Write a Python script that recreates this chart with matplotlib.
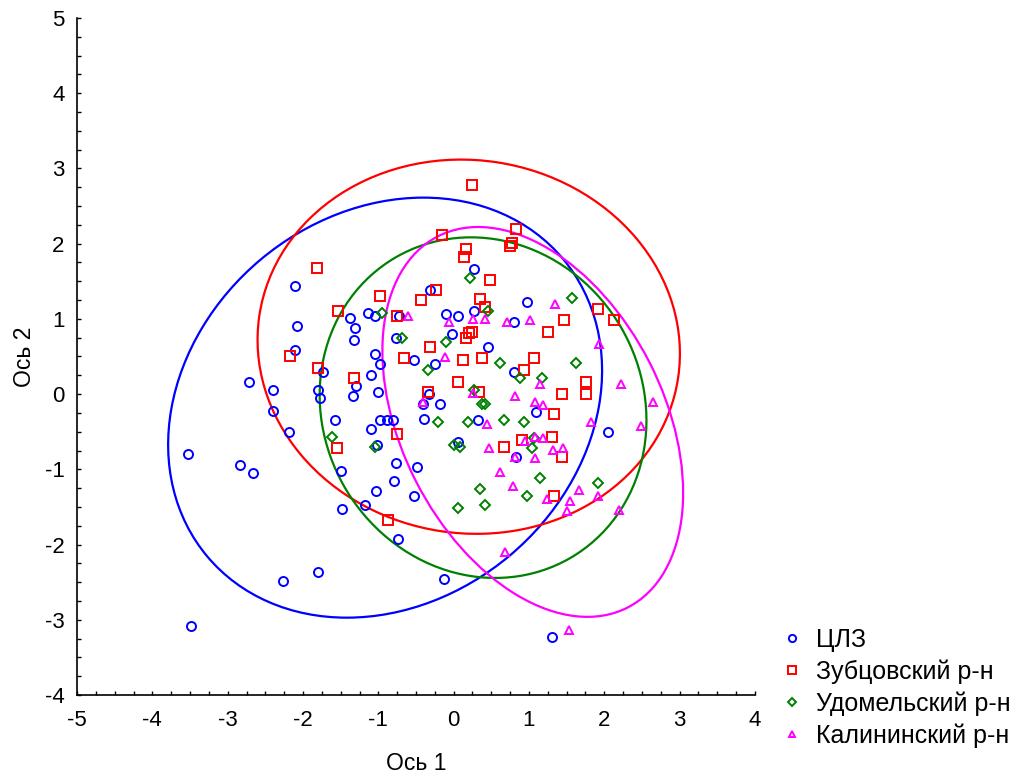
import matplotlib
matplotlib.use("Agg")
import matplotlib.pyplot as plt
from matplotlib.patches import Ellipse
from matplotlib.ticker import MultipleLocator

plt.rcParams['font.family'] = ['Liberation Sans', 'DejaVu Sans']
plt.rcParams['axes.unicode_minus'] = False

# group names
groups = ['ЦЛЗ', 'Зубцовский р-н', 'Удомельский р-н', 'Калининский р-н']
colors = ['#0000FF', '#FF0000', '#008000', '#FF00FF']
markers = ['o', 's', 'D', '^']

# ЦЛЗ scores (axis 1, axis 2)
clz_x = [-3.52, -3.49, -2.83, -2.67, -2.72, -2.40, -2.40, -2.19, -2.11, -2.08,
         -2.11, -2.27, -1.80, -1.80, -1.77, -1.74, -1.58, -1.50, -1.48, -1.37,
         -1.31, -1.32, -1.14, -1.05, -1.05, -0.98, -1.10, -1.29, -1.34, -1.00,
         -1.10, -0.98, -0.89, -0.81, -0.76, -1.02, -1.18, -1.03, -0.79, -0.76,
         -0.74, 0.27, -0.31, -0.73, -0.10, 0.06, 0.27, -0.02, 0.46, 0.80,
         0.98, -0.52, -0.25, -0.33, -0.41, -0.18, -0.39, 0.32, 0.06, 0.80,
         -0.49, -0.52, 0.83, 1.09, 2.05, -0.13, 1.30]
clz_y = [-0.80, -3.08, -0.94, -1.05, 0.16, 0.05, -0.22, -0.51, 1.44, 0.91,
         0.59, -2.49, -2.36, 0.05, -0.05, 0.29, -0.35, -1.02, -1.53, 1.01,
         0.88, 0.72, 1.08, 1.04, 0.53, 0.40, 0.26, 0.11, -0.03, 0.03,
         -0.46, -0.35, -0.35, -0.35, 0.75, -0.67, -1.47, -1.29, -1.15, -0.91,
         -1.92, 1.66, 1.39, 1.04, 1.07, 1.04, 1.10, 0.80, 0.63, 0.96,
         1.23, 0.45, 0.40, 0.00, -0.13, -0.13, -0.33, -0.35, -0.64, 0.29,
         -0.97, -1.36, -0.83, -0.24, -0.51, -2.46, -3.23]

# Зубцовский р-н
zub_x = [0.25, -0.15, -1.82, -1.53, -0.98, -0.75, -2.17, -1.80, -1.32, -1.55,
         -0.87, -0.75, 0.83, 0.77, 0.75, 0.17, 0.14, 0.48, -0.23, -0.44,
         0.35, 0.41, 0.25, 0.21, 0.17, -0.31, -0.66, 0.12, 0.38, 0.94,
         0.06, -0.34, 0.33, 0.67, 0.91, 1.07, 1.76, 1.44, 1.76, 1.33,
         1.30, 1.44, 1.33, 1.91, 2.13, 1.46, 1.25]
zub_y = [2.78, 2.11, 1.68, 1.10, 1.31, 1.04, 0.50, 0.35, 0.22, -0.72,
         -1.68, -0.53, 2.19, 2.01, 1.97, 1.93, 1.82, 1.52, 1.39, 1.25,
         1.26, 1.16, 0.83, 0.81, 0.74, 0.62, 0.48, 0.45, 0.48, 0.32,
         0.16, 0.03, 0.03, -0.70, -0.61, 0.48, 0.16, 0.00, 0.00, -0.27,
         -0.57, -0.83, -1.36, 1.13, 0.99, 0.99, 0.83]

# Удомельский р-н
udo_x = [-0.95, -1.62, -1.05, 0.22, -0.68, -0.10, 0.46, 0.62, -0.34, 0.27,
         0.41, 0.38, 0.88, -0.21, 0.19, 0.67, 0.93, 0.00, 0.09, 0.35,
         0.41, 0.06, 0.98, 1.63, 1.17, 1.07, 1.04, 1.14, 1.91, 1.57]
udo_y = [1.08, -0.57, -0.70, 1.55, 0.74, 0.69, 1.10, 0.42, 0.32, 0.05,
         -0.13, -0.13, 0.21, -0.37, -0.37, -0.35, -0.37, -0.67, -0.70, -1.26,
         -1.47, -1.52, -1.36, 0.42, 0.21, -0.59, -0.72, -1.12, -1.18, 1.28]

# Калининский р-н
kal_x = [-0.61, -0.06, 0.26, 0.42, 0.71, 1.01, 1.35, 1.93, -0.11, 0.26,
         -0.41, 0.82, 0.44, 0.47, 0.82, 0.95, 0.61, 0.79, 1.14, 2.22,
         1.08, 1.19, 2.64, 1.82, 2.49, 1.08, 1.19, 1.32, 1.45, 1.08,
         1.66, 1.91, 1.55, 1.24, 1.50, 2.19, 0.68, 1.53]
kal_y = [1.04, 0.96, 1.00, 1.00, 0.96, 0.98, 1.20, 0.67, 0.49, 0.01,
         -0.11, -0.02, -0.40, -0.72, -0.84, -0.63, -1.04, -1.22, 0.14, 0.14,
         -0.10, -0.15, -0.10, -0.37, -0.42, -0.57, -0.58, -0.74, -0.71, -0.85,
         -1.28, -1.36, -1.42, -1.39, -1.55, -1.54, -2.10, -3.14]

# ellipses: centre x, centre y, semi-axis a, semi-axis b, angle (deg)
ell_cx = [-0.91, 0.20, 0.39, 1.05]
ell_cy = [-0.18, 0.63, -0.18, -0.37]
ell_a = [3.08, 2.81, 2.31, 2.77]
ell_b = [2.57, 2.48, 2.12, 1.74]
ell_ang = [40, -8.5, -60, -63]

xs = [clz_x, zub_x, udo_x, kal_x]
ys = [clz_y, zub_y, udo_y, kal_y]
msizes = [6.5, 6.5, 5, 6]

fig = plt.figure(figsize=(10.24, 7.76), dpi=100)
ax = fig.add_axes([0.0752, 0.1044, 0.6621, 0.8724])

for i in range(4):
    ax.plot(xs[i], ys[i], linestyle='none', marker=markers[i], markersize=msizes[i],
            markerfacecolor='none', markeredgecolor=colors[i], markeredgewidth=1.4,
            label=groups[i])
for i in range(4):
    e = Ellipse((ell_cx[i], ell_cy[i]), 2 * ell_a[i], 2 * ell_b[i], angle=ell_ang[i],
                fill=False, edgecolor=colors[i], linewidth=1.6)
    ax.add_patch(e)

ax.set_xlim(-5, 4)
ax.set_ylim(-4, 5)
ax.xaxis.set_major_locator(MultipleLocator(1))
ax.yaxis.set_major_locator(MultipleLocator(1))
ax.xaxis.set_minor_locator(MultipleLocator(0.25))
ax.yaxis.set_minor_locator(MultipleLocator(0.25))
ax.tick_params(which='both', direction='in', length=3, width=1, labelsize=16)
ax.tick_params(axis='x', pad=11)
ax.tick_params(axis='y', pad=9)
ax.spines['top'].set_visible(False)
ax.spines['right'].set_visible(False)
for s in ['left', 'bottom']:
    ax.spines[s].set_linewidth(1.2)

ax.set_xlabel('Ось 1', fontsize=16.5, labelpad=15)
ax.set_ylabel('Ось 2', fontsize=16.5, labelpad=6)

leg = fig.legend(loc='upper left', bbox_to_anchor=(0.752, 0.207), frameon=False,
                 fontsize=18, handlelength=0.75, handletextpad=0.6,
                 labelspacing=0.3, borderpad=0, markerscale=0.8)

fig.savefig('out.png', dpi=100)
